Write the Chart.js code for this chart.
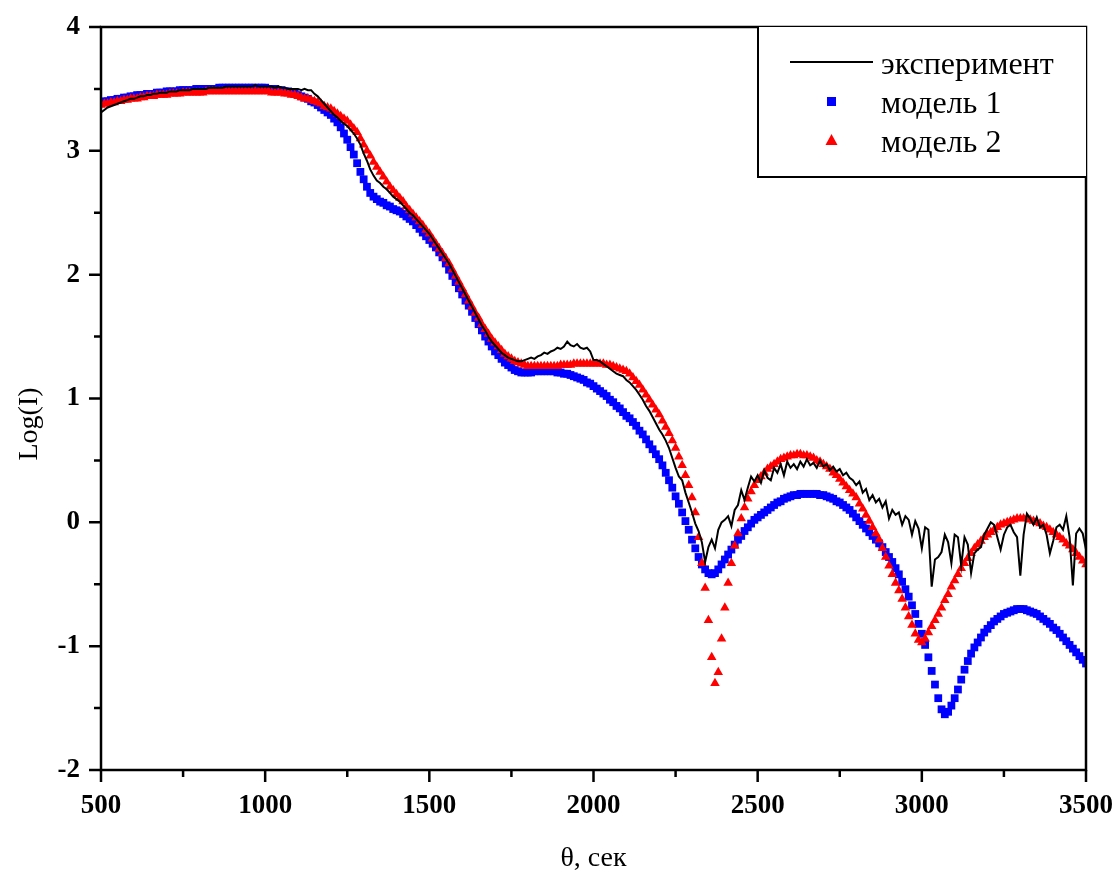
<!DOCTYPE html>
<html>
<head>
<meta charset="utf-8">
<script src="https://cdn.jsdelivr.net/npm/chart.js@4.4.1/dist/chart.umd.min.js"></script>
<style>
  html, body { margin: 0; padding: 0; background: #fff; }
  #wrap { width: 1115px; height: 870px; }
</style>
</head>
<body>
<div id="wrap"><canvas id="chart" width="1115" height="870"></canvas></div>
<script>
// θ grid: 500..3500, step 10
const thetaStart = 500;
const thetaStep = 10;

const seriesNames = ["эксперимент", "модель 1", "модель 2"];

// эксперимент
const experiment = [
  3.31,3.33,3.35,3.36,3.37,3.38,3.39,3.40,3.41,3.42,
  3.42,3.43,3.44,3.44,3.45,3.45,3.46,3.46,3.47,3.47,
  3.47,3.48,3.48,3.48,3.49,3.49,3.49,3.49,3.50,3.50,
  3.50,3.50,3.50,3.51,3.51,3.51,3.51,3.51,3.52,3.52,
  3.52,3.52,3.52,3.52,3.52,3.52,3.52,3.53,3.52,3.52,
  3.52,3.52,3.52,3.51,3.52,3.51,3.51,3.50,3.50,3.50,
  3.50,3.49,3.50,3.49,3.49,3.46,3.44,3.41,3.38,3.35,
  3.32,3.29,3.27,3.24,3.22,3.20,3.17,3.14,3.10,3.05,
  2.98,2.92,2.85,2.80,2.76,2.74,2.71,2.69,2.66,2.63,
  2.61,2.59,2.56,2.53,2.50,2.48,2.45,2.42,2.39,2.36,
  2.33,2.29,2.25,2.21,2.17,2.13,2.09,2.04,1.99,1.94,
  1.89,1.84,1.79,1.74,1.69,1.64,1.59,1.55,1.50,1.46,
  1.43,1.40,1.37,1.35,1.33,1.32,1.31,1.30,1.30,1.31,
  1.32,1.33,1.32,1.34,1.35,1.37,1.36,1.38,1.39,1.41,
  1.40,1.42,1.46,1.43,1.42,1.44,1.41,1.40,1.41,1.38,
  1.31,1.31,1.30,1.28,1.26,1.24,1.22,1.20,1.19,1.18,
  1.15,1.13,1.10,1.07,1.03,0.99,0.94,0.90,0.85,0.80,
  0.75,0.71,0.66,0.60,0.52,0.44,0.37,0.34,0.24,0.16,
  0.08,-0.01,-0.07,-0.16,-0.32,-0.20,-0.14,-0.21,-0.06,0.00,
  0.02,0.05,-0.03,0.10,0.14,0.26,0.18,0.28,0.37,0.33,
  0.38,0.32,0.42,0.36,0.34,0.44,0.40,0.47,0.38,0.49,
  0.44,0.47,0.43,0.49,0.45,0.51,0.46,0.48,0.44,0.50,
  0.45,0.47,0.42,0.45,0.41,0.43,0.38,0.40,0.36,0.34,
  0.30,0.33,0.24,0.27,0.18,0.22,0.16,0.19,0.12,0.17,
  0.03,0.10,0.06,0.08,-0.02,0.05,0.02,-0.10,0.01,-0.05,
  -0.21,-0.04,-0.06,-0.52,-0.30,-0.28,-0.24,-0.10,-0.16,-0.33,
  -0.10,-0.12,-0.35,-0.12,-0.18,-0.41,-0.25,-0.22,-0.20,-0.10,
  -0.05,0.00,-0.02,-0.12,-0.22,-0.10,-0.04,-0.02,-0.08,-0.12,
  -0.43,-0.10,0.07,0.03,-0.02,0.04,-0.04,-0.02,-0.10,-0.25,
  -0.15,-0.04,-0.02,-0.06,0.05,-0.12,-0.51,-0.09,-0.05,-0.09,
  -0.22
];

// модель 1
const model1 = [
  3.39,3.40,3.40,3.41,3.41,3.42,3.42,3.43,3.43,3.44,
  3.44,3.45,3.45,3.45,3.46,3.46,3.46,3.47,3.47,3.47,
  3.48,3.48,3.48,3.48,3.49,3.49,3.49,3.49,3.49,3.50,
  3.50,3.50,3.50,3.50,3.50,3.50,3.51,3.51,3.51,3.51,
  3.51,3.51,3.51,3.51,3.51,3.51,3.51,3.51,3.51,3.51,
  3.51,3.50,3.50,3.50,3.49,3.49,3.48,3.48,3.47,3.46,
  3.45,3.44,3.43,3.42,3.40,3.39,3.37,3.35,3.33,3.31,
  3.29,3.26,3.23,3.19,3.14,3.09,3.03,2.97,2.90,2.83,
  2.77,2.71,2.66,2.63,2.61,2.59,2.58,2.56,2.55,2.53,
  2.52,2.51,2.49,2.47,2.45,2.43,2.40,2.37,2.34,2.31,
  2.28,2.25,2.22,2.18,2.14,2.09,2.04,1.99,1.94,1.89,
  1.84,1.79,1.75,1.70,1.65,1.60,1.55,1.50,1.46,1.42,
  1.38,1.35,1.32,1.29,1.27,1.25,1.23,1.22,1.21,1.21,
  1.21,1.21,1.22,1.22,1.22,1.22,1.22,1.22,1.22,1.21,
  1.21,1.20,1.20,1.19,1.18,1.17,1.16,1.15,1.13,1.12,
  1.10,1.08,1.06,1.04,1.02,0.99,0.97,0.94,0.92,0.89,
  0.86,0.84,0.81,0.78,0.74,0.71,0.67,0.63,0.59,0.55,
  0.51,0.46,0.40,0.34,0.28,0.21,0.15,0.08,0.01,-0.06,
  -0.14,-0.21,-0.28,-0.34,-0.38,-0.41,-0.42,-0.41,-0.38,-0.34,
  -0.30,-0.26,-0.22,-0.18,-0.14,-0.11,-0.07,-0.04,-0.01,0.02,
  0.04,0.06,0.08,0.10,0.12,0.14,0.16,0.17,0.19,0.20,
  0.21,0.22,0.22,0.23,0.23,0.23,0.23,0.23,0.23,0.22,
  0.22,0.21,0.20,0.19,0.17,0.16,0.14,0.12,0.10,0.07,
  0.04,0.01,-0.02,-0.05,-0.08,-0.11,-0.14,-0.17,-0.20,-0.24,
  -0.28,-0.32,-0.37,-0.42,-0.48,-0.54,-0.60,-0.67,-0.74,-0.82,
  -0.90,-0.99,-1.09,-1.20,-1.31,-1.42,-1.51,-1.55,-1.53,-1.48,
  -1.42,-1.35,-1.27,-1.19,-1.12,-1.06,-1.01,-0.97,-0.93,-0.89,
  -0.86,-0.83,-0.80,-0.78,-0.76,-0.74,-0.73,-0.72,-0.71,-0.70,
  -0.70,-0.70,-0.71,-0.72,-0.73,-0.74,-0.76,-0.78,-0.80,-0.82,
  -0.85,-0.87,-0.90,-0.93,-0.96,-0.99,-1.02,-1.05,-1.08,-1.11,
  -1.14
];

// модель 2
const model2 = [
  3.37,3.38,3.38,3.39,3.39,3.40,3.40,3.41,3.41,3.42,
  3.42,3.42,3.43,3.43,3.44,3.44,3.44,3.45,3.45,3.45,
  3.45,3.46,3.46,3.46,3.46,3.47,3.47,3.47,3.47,3.47,
  3.47,3.47,3.48,3.48,3.48,3.48,3.48,3.48,3.48,3.48,
  3.48,3.48,3.48,3.48,3.48,3.48,3.48,3.48,3.48,3.48,
  3.48,3.48,3.47,3.47,3.47,3.47,3.46,3.46,3.45,3.45,
  3.44,3.43,3.42,3.42,3.41,3.40,3.39,3.38,3.36,3.35,
  3.34,3.32,3.30,3.28,3.26,3.24,3.21,3.18,3.15,3.10,
  3.05,3.00,2.96,2.91,2.87,2.83,2.79,2.75,2.71,2.68,
  2.65,2.62,2.59,2.55,2.52,2.49,2.46,2.43,2.40,2.36,
  2.33,2.29,2.25,2.21,2.17,2.13,2.09,2.04,1.99,1.94,
  1.89,1.84,1.79,1.74,1.69,1.65,1.60,1.56,1.52,1.48,
  1.45,1.42,1.39,1.36,1.34,1.32,1.30,1.29,1.28,1.27,
  1.26,1.26,1.26,1.26,1.26,1.26,1.26,1.26,1.26,1.26,
  1.27,1.27,1.27,1.27,1.28,1.28,1.28,1.28,1.28,1.28,
  1.28,1.28,1.28,1.28,1.27,1.27,1.26,1.25,1.24,1.23,
  1.22,1.20,1.17,1.14,1.11,1.07,1.03,0.99,0.95,0.91,
  0.87,0.82,0.77,0.72,0.66,0.60,0.53,0.46,0.38,0.30,
  0.20,0.08,-0.12,-0.33,-0.53,-0.79,-1.09,-1.30,-1.21,-0.94,
  -0.69,-0.49,-0.33,-0.19,-0.09,0.03,0.12,0.19,0.25,0.30,
  0.34,0.37,0.40,0.43,0.45,0.47,0.49,0.51,0.52,0.53,
  0.54,0.54,0.55,0.55,0.54,0.54,0.53,0.52,0.50,0.49,
  0.47,0.45,0.43,0.40,0.38,0.35,0.32,0.29,0.26,0.23,
  0.20,0.15,0.11,0.06,0.01,-0.04,-0.09,-0.14,-0.21,-0.28,
  -0.35,-0.42,-0.49,-0.55,-0.62,-0.69,-0.76,-0.83,-0.90,-0.95,
  -0.97,-0.94,-0.89,-0.84,-0.79,-0.74,-0.69,-0.63,-0.58,-0.52,
  -0.47,-0.42,-0.37,-0.33,-0.29,-0.25,-0.21,-0.18,-0.15,-0.12,
  -0.10,-0.08,-0.06,-0.04,-0.02,-0.01,0.00,0.01,0.02,0.03,
  0.03,0.03,0.03,0.02,0.01,0.00,-0.01,-0.03,-0.04,-0.06,
  -0.08,-0.10,-0.12,-0.14,-0.17,-0.19,-0.22,-0.25,-0.28,-0.31,
  -0.34
];

const xTicksMajor = [500, 1000, 1500, 2000, 2500, 3000, 3500];
const yTicksMajor = [-2, -1, 0, 1, 2, 3, 4];

const toPoints = (arr) => arr.map((v, i) => ({ x: thetaStart + i * thetaStep, y: v }));

const serif = "'Liberation Serif', 'Times New Roman', serif";

// frame, outward ticks, axis titles and legend box
const framePlugin = {
  id: "frame",
  afterDatasetsDraw(chart) {
    const { ctx, chartArea: a, scales } = chart;
    const xs = scales.x, ys = scales.y;
    ctx.save();
    ctx.strokeStyle = "#000";
    ctx.lineWidth = 2.5;
    ctx.lineCap = "butt";
    ctx.strokeRect(a.left, a.top, a.right - a.left, a.bottom - a.top);

    ctx.beginPath();
    for (let v = 500; v <= 3500; v += 250) {
      const px = xs.getPixelForValue(v);
      const len = v % 500 === 0 ? 12 : 7;
      ctx.moveTo(px, a.bottom);
      ctx.lineTo(px, a.bottom + len);
    }
    for (let v = -2; v <= 4; v += 0.5) {
      const py = ys.getPixelForValue(v);
      const len = Number.isInteger(v) ? 12 : 7;
      ctx.moveTo(a.left, py);
      ctx.lineTo(a.left - len, py);
    }
    ctx.stroke();

    // axis titles
    ctx.fillStyle = "#000";
    ctx.font = "28px " + serif;
    ctx.textAlign = "center";
    ctx.textBaseline = "alphabetic";
    ctx.fillText("θ, сек", (a.left + a.right) / 2, 866);
    ctx.save();
    ctx.translate(37, 424);
    ctx.rotate(-Math.PI / 2);
    ctx.fillText("Log(I)", 0, 0);
    ctx.restore();

    // legend
    const lx = 758, ly = a.top, lr = a.right, lb = 177;
    ctx.fillStyle = "#fff";
    ctx.fillRect(lx, ly, lr - lx, lb - ly);
    ctx.lineWidth = 2;
    ctx.beginPath();
    ctx.moveTo(lx, ly);
    ctx.lineTo(lx, lb);
    ctx.lineTo(lr, lb);
    ctx.stroke();

    const ds = chart.data.datasets;
    ctx.lineWidth = ds[0].borderWidth;
    ctx.strokeStyle = ds[0].borderColor;
    ctx.beginPath();
    ctx.moveTo(790, 62);
    ctx.lineTo(873, 62);
    ctx.stroke();

    ctx.fillStyle = ds[1].backgroundColor;
    ctx.fillRect(827, 97, 9, 9);

    ctx.fillStyle = ds[2].backgroundColor;
    ctx.beginPath();
    ctx.moveTo(831.5, 134);
    ctx.lineTo(837.5, 145);
    ctx.lineTo(825.5, 145);
    ctx.closePath();
    ctx.fill();

    ctx.fillStyle = "#000";
    ctx.font = "32px " + serif;
    ctx.textAlign = "left";
    ctx.textBaseline = "alphabetic";
    ctx.fillText(seriesNames[0], 881, 74);
    ctx.fillText(seriesNames[1], 881, 113);
    ctx.fillText(seriesNames[2], 881, 152);
    ctx.restore();
  }
};

new Chart(document.getElementById("chart"), {
  type: "scatter",
  data: {
    datasets: [
      {
        label: seriesNames[0],
        data: toPoints(experiment),
        showLine: true,
        borderColor: "#000000",
        borderWidth: 2,
        pointRadius: 0,
        tension: 0,
        order: 0,
        clip: 0
      },
      {
        label: seriesNames[1],
        data: toPoints(model1),
        showLine: false,
        pointStyle: "rect",
        pointRadius: 5.5,
        backgroundColor: "#0000ff",
        borderWidth: 0,
        order: 2,
        clip: 0
      },
      {
        label: seriesNames[2],
        data: toPoints(model2),
        showLine: false,
        pointStyle: "triangle",
        pointRadius: 5.5,
        backgroundColor: "#ff0000",
        borderWidth: 0,
        order: 1,
        clip: 0
      }
    ]
  },
  options: {
    responsive: false,
    animation: false,
    layout: { padding: { left: 0, top: 27, right: 29, bottom: 0 } },
    plugins: { legend: { display: false }, tooltip: { enabled: false } },
    scales: {
      x: {
        type: "linear",
        min: 500,
        max: 3500,
        afterFit: (s) => { s.height = 100; s.paddingLeft = 0; s.paddingRight = 0; },
        grid: { display: false, drawTicks: false },
        border: { display: false },
        ticks: {
          stepSize: 250,
          autoSkip: false,
          maxRotation: 0,
          padding: 20,
          color: "#000",
          font: { family: serif, size: 27, weight: "bold" },
          callback: (v) => (xTicksMajor.includes(v) ? String(v) : "")
        }
      },
      y: {
        type: "linear",
        min: -2,
        max: 4,
        afterFit: (s) => { s.width = 101; s.paddingTop = 0; s.paddingBottom = 0; },
        grid: { display: false, drawTicks: false },
        border: { display: false },
        ticks: {
          stepSize: 0.5,
          autoSkip: false,
          padding: 21,
          color: "#000",
          font: { family: serif, size: 27, weight: "bold" },
          callback: (v) => (yTicksMajor.includes(v) ? String(v) : "")
        }
      }
    }
  },
  plugins: [framePlugin]
});
</script>
</body>
</html>
